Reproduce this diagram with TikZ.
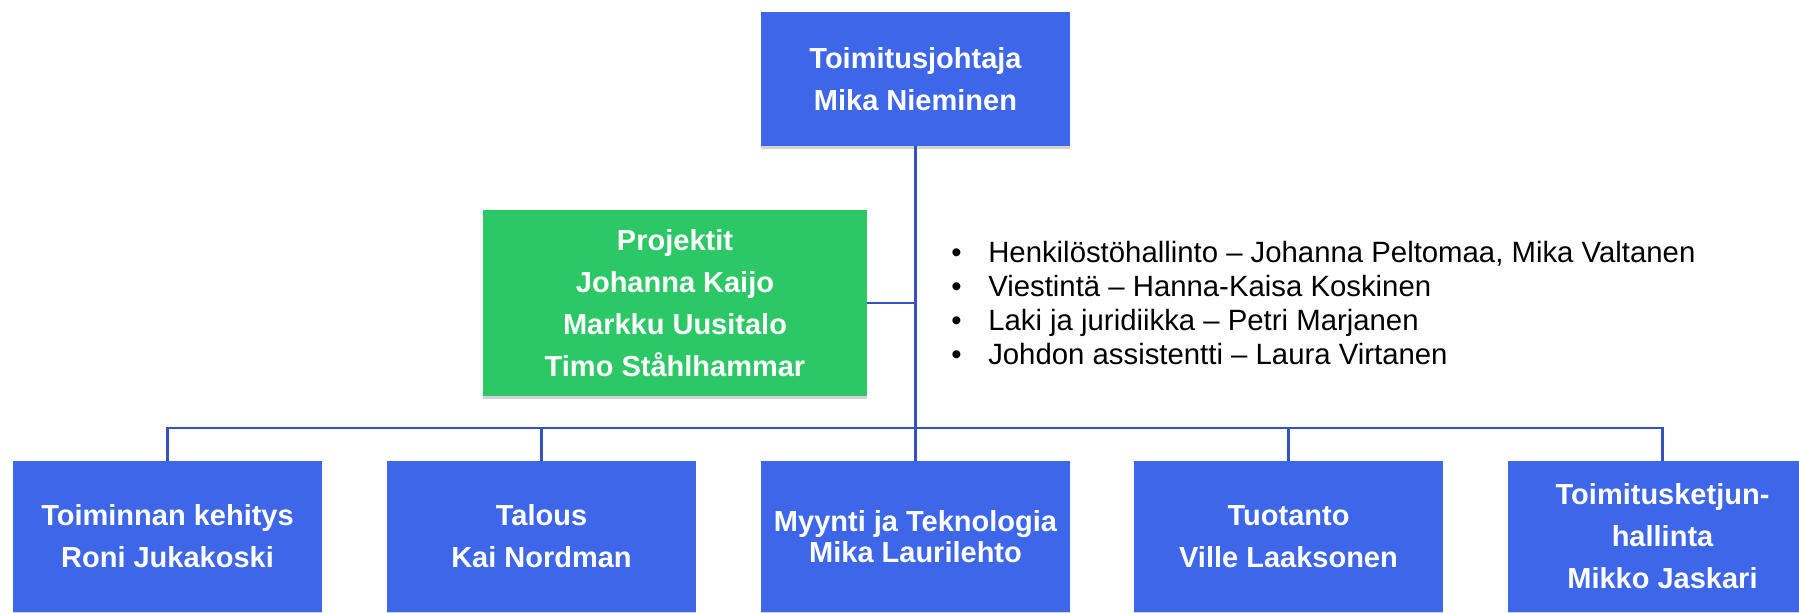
\documentclass[tikz,border=0pt]{standalone}
\usepackage{fontspec}
\setsansfont{Liberation Sans}
\usepackage{xcolor}
\usepackage{tikz}
\usetikzlibrary{shadows}
\definecolor{OrgBlue}{RGB}{61,102,232}
\definecolor{OrgGreen}{RGB}{45,200,102}
\definecolor{OrgLine}{RGB}{52,82,190}
\tikzset{
  OrgBox/.style={
    rectangle, fill=OrgBlue, text=white,
    minimum width=231.75pt, minimum height=113.25pt,
    align=center, inner sep=0pt,
    font=\sffamily\bfseries\fontsize{21.75pt}{31.5pt}\selectfont,
    drop shadow={shadow xshift=0pt, shadow yshift=-2.5pt, opacity=0.35},
  },
  OrgLink/.style={line width=1.9pt, draw=OrgLine},
  OrgItem/.style={anchor=base west, inner sep=0pt,
    font=\sffamily\fontsize{22pt}{25.5pt}\selectfont},
}
\begin{document}
\begin{tikzpicture}[x=0.75pt, y=-0.75pt]
\useasboundingbox (0,0) rectangle (1799,612);
\node[OrgBox, minimum height=100.5pt] (CEO) at (915.5,79) {Toimitusjohtaja\\Mika Nieminen};
\node[OrgBox, fill=OrgGreen, minimum width=288pt, minimum height=139.5pt] (PROJ) at (675,303) {Projektit\\Johanna Kaijo\\Markku Uusitalo\\Timo Ståhlhammar};
\node[OrgItem] (HR) at (951,262) {\makebox[27.75pt][l]{\textbullet}Henkilöstöhallinto – Johanna Peltomaa, Mika Valtanen};
\node[OrgItem] (COMM) at (951,296) {\makebox[27.75pt][l]{\textbullet}Viestintä – Hanna-Kaisa Koskinen};
\node[OrgItem] (LAW) at (951,330) {\makebox[27.75pt][l]{\textbullet}Laki ja juridiikka – Petri Marjanen};
\node[OrgItem] (ASST) at (951,364) {\makebox[27.75pt][l]{\textbullet}Johdon assistentti – Laura Virtanen};
\node[OrgBox] (DEV) at (167.5,536.5) {Toiminnan kehitys\\Roni Jukakoski};
\node[OrgBox] (FIN) at (541.5,536.5) {Talous\\Kai Nordman};
\node[OrgBox, font=\sffamily\bfseries\fontsize{21.75pt}{23.25pt}\selectfont] (SALES) at (915.5,536.5) {Myynti ja Teknologia\\Mika Laurilehto};
\node[OrgBox] (PROD) at (1288.5,536.5) {Tuotanto\\Ville Laaksonen};
\node[OrgBox] (SUPPLY) at (1662.5,536.5) {Toimitusketjun-\\hallinta\\Mikko Jaskari};
\coordinate (BUS) at (915.5,428);
\draw[OrgLink] (CEO.south) to (CEO.south |- BUS);
\draw[OrgLink] (DEV.north) |- (BUS) -| (SUPPLY.north);
\draw[OrgLink] (FIN.north |- BUS) to (FIN.north);
\draw[OrgLink] (SALES.north |- BUS) to (SALES.north);
\draw[OrgLink] (PROD.north |- BUS) to (PROD.north);
\draw[OrgLink] (PROJ.east) to (PROJ.east -| CEO.south);
\end{tikzpicture}
\end{document}
